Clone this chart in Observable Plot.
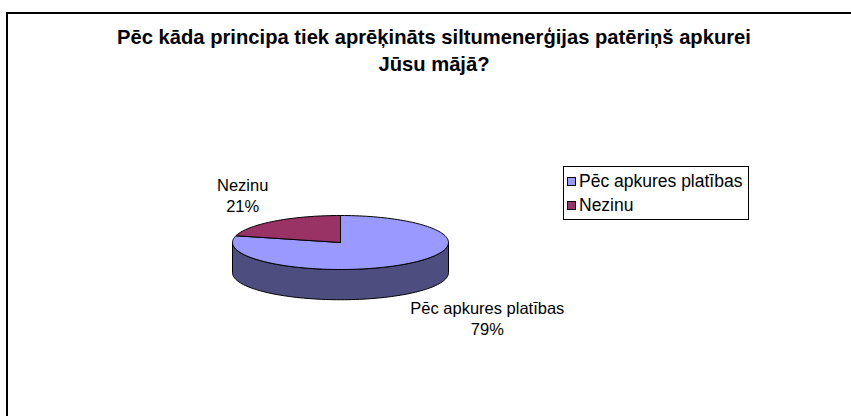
<!DOCTYPE html>
<html>
<head>
<meta charset="utf-8">
<script src="https://cdn.jsdelivr.net/npm/d3@7"></script>
<script src="https://cdn.jsdelivr.net/npm/@observablehq/plot@0.6"></script>
<style>
  html, body { margin: 0; padding: 0; background: #fff; }
  body { width: 851px; height: 416px; position: relative; overflow: hidden; font-family: "Liberation Sans", Arial, sans-serif; }
  #frame { position: absolute; left: 6px; top: 12px; width: 900px; height: 500px; border-left: 2px solid #000; border-top: 2px solid #000; box-sizing: border-box; }
  #title { position: absolute; left: 0; width: 868px; top: 24px; text-align: center; font-weight: bold; font-size: 20.2px; line-height: 27px; color: #000; }
  #chart { position: absolute; left: 0; top: 0; }
  #legend { position: absolute; left: 563px; top: 166px; width: 186px; height: 54px; border: 1px solid #000; box-sizing: border-box; background: #fff; font-size: 17.5px; }
  .item { position: absolute; left: 3px; height: 20px; line-height: 20px; white-space: nowrap; }
  .sw { display: inline-block; width: 7px; height: 7px; border: 1px solid #000; margin-right: 3px; vertical-align: 1px; }
</style>
</head>
<body>
<div id="frame"></div>
<div id="title">Pēc kāda principa tiek aprēķināts siltumenerģijas patēriņš apkurei<br>Jūsu mājā?</div>
<div id="chart"></div>
<div id="legend"></div>
<script>
const categories = ["Pēc apkures platības", "Nezinu"];
const values = [79, 21];
const labels = ["79%", "21%"];
const topColors = ["#9999FF", "#993366"];
const sideColors = ["#4D4D80", "#4D1A33"];

const total = d3.sum(values);
const depth = 1.12; // cylinder height in y-units
const deg = Math.PI / 180;

// slices: first starts at 12 o'clock, clockwise
let cum = 0;
const slices = values.map((v, i) => {
  const a0 = 90 - cum / total * 360;
  cum += v;
  const a1 = 90 - cum / total * 360;
  return {i, name: categories[i], value: v, a0, a1, mid: (a0 + a1) / 2};
});

function arc(a0, a1, off) {
  const n = Math.max(2, Math.ceil(Math.abs(a1 - a0) / 2));
  const pts = [];
  for (let k = 0; k <= n; k++) {
    const a = (a0 + (a1 - a0) * k / n) * deg;
    pts.push({x: Math.cos(a), y: -Math.sin(a) + off});
  }
  return pts;
}

// top face polygons
const tops = slices.map(s => [{x: 0, y: 0}, ...arc(s.a0, s.a1, 0), {x: 0, y: 0}]);

// visible side walls: front half of the cylinder
const sides = [];
slices.forEach(s => {
  const lo = s.a1, hi = s.a0;
  for (const [f0, f1] of [[-180, 0], [180, 360], [-540, -360]]) {
    const a = Math.max(lo, f0), b = Math.min(hi, f1);
    if (b > a) {
      const upper = arc(b, a, 0);
      const lower = arc(a, b, depth);
      sides.push({i: s.i, pts: [...upper, ...lower, upper[0]]});
    }
  }
});

const marks = [];
sides.forEach(sd => marks.push(Plot.line(sd.pts, {x: "x", y: "y", fill: sideColors[sd.i], stroke: "#000", strokeWidth: 1, strokeLinejoin: "round"})));
tops.forEach((pts, i) => marks.push(Plot.line(pts, {x: "x", y: "y", fill: topColors[i], stroke: "#000", strokeWidth: 1, strokeLinejoin: "round"})));

// data labels
const labelData = slices.map(s => ({
  text: categories[s.i] + "\n" + labels[s.i],
  x: 1.07 * Math.cos(s.mid * deg),
  y: -1.74 * Math.sin(s.mid * deg) + (Math.sin(s.mid * deg) < 0 ? depth : 0),
  right: Math.cos(s.mid * deg) > 0
}));
const textStyle = {x: "x", y: "y", text: "text", textAnchor: "middle", fontSize: 16.5, lineHeight: 1.28, fill: "#000", fontFamily: "Liberation Sans, Arial, sans-serif"};
marks.push(Plot.text(labelData.filter(d => d.right), {...textStyle, dx: 76, dy: 8}));
marks.push(Plot.text(labelData.filter(d => !d.right), {...textStyle, dx: -27, dy: -11}));

const chart = Plot.plot({
  width: 851,
  height: 416,
  margin: 0,
  style: {background: "transparent", overflow: "visible"},
  x: {domain: [-1, 1], range: [232, 448], axis: null},
  y: {domain: [-1, 1], range: [215, 269], axis: null},
  marks
});
document.getElementById("chart").appendChild(chart);

// legend
const legend = document.getElementById("legend");
categories.forEach((c, i) => {
  const it = document.createElement("div");
  it.className = "item";
  it.style.top = (4 + i * 24) + "px";
  const sw = document.createElement("span");
  sw.className = "sw";
  sw.style.background = topColors[i];
  it.appendChild(sw);
  it.appendChild(document.createTextNode(c));
  legend.appendChild(it);
});
</script>
</body>
</html>
